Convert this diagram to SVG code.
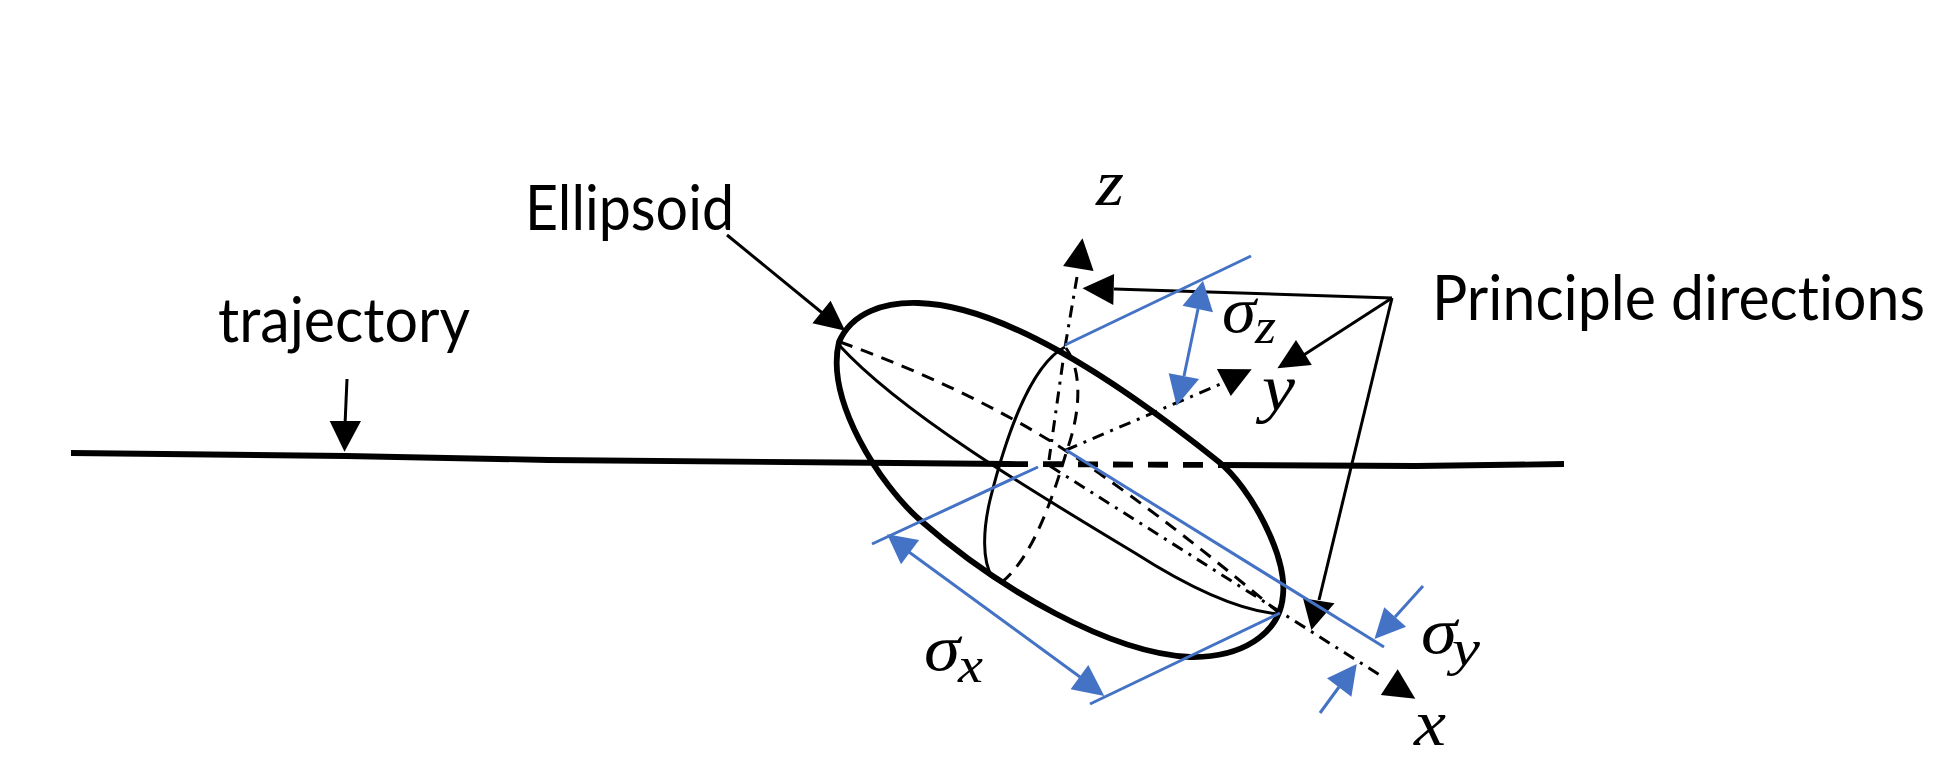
<svg xmlns="http://www.w3.org/2000/svg" width="1948" height="770" viewBox="0 0 1948 770">
<style>
.thick{fill:none;stroke:#000;stroke-width:5.800}
.thin{fill:none;stroke:#000;stroke-width:3}
.dash{fill:none;stroke:#000;stroke-width:3;stroke-dasharray:13 9}
.dd{fill:none;stroke:#000;stroke-width:3;stroke-dasharray:12 7 3 7}
.blue{fill:none;stroke:#4472c4;stroke-width:3}
.bh{fill:#4472c4}
.lab{font-family:Lato,"Open Sans",sans-serif;font-size:62px;fill:#000;font-variant-ligatures:none}
.m{font-family:"Liberation Serif",serif;font-style:italic;font-size:66px;fill:#000}
.s{font-family:"Liberation Serif",serif;font-style:italic;font-size:50px;fill:#000}
</style>
<rect width="1948" height="770" fill="#fff"/>
<g id="trajectory-line">
<path class="thick" d="M71 453L346 456L548 460L840 462.500L1008 464"/>
<path class="thick" d="M1008 464L1218 465" stroke-dasharray="20 15"/>
<path class="thick" d="M1218 465L1416 466L1564 464"/>
</g>
<g id="ellipsoid">
<path class="thick" d="M839 342C852 312 885 302 918 303C1000 305 1110 375 1219 462C1250 487 1287 555 1283 595C1280 635 1240 658 1190 657C1110 653 1000 590 920 520C880 485 825 400 839 342Z"/>
<path class="thin" d="M839 345C900 412 1030 490 1135 553C1185 585 1235 610 1278 614"/>
<path class="thin" d="M1065 347C1030 365 1005 440 990 500C983 530 982 560 992 577"/>
<path class="dash" d="M1066 348C1085 375 1078 420 1067 450C1055 490 1035 555 1002 582"/>
<path class="dash" d="M840 342Q960 385 1057 445Q1150 505 1278 612"/>
</g>
<g id="connectors">
<path class="dd" d="M1077 277L1065 347L1049 460"/>
<path class="dd" d="M1066 450L1223 383"/>
<path class="dd" d="M1050 466L1383 677"/>
<path class="thin" d="M727 235L826 316"/>
<path class="thin" d="M347 379L345 425"/>
<path class="thin" d="M1114 289L1392 298"/>
<path class="thin" d="M1392 298L1296 360"/>
<path class="thin" d="M1392 298L1319 600"/>
<polygon points="830.600,300.700 812.400,323.300 845.200,330.700"/>
<polygon points="329.700,421 361,421 344.500,451.700"/>
<polygon points="1082.500,238.300 1063.100,266 1093.600,271"/>
<polygon points="1082.500,288.300 1114.100,274 1113.300,305"/>
<polygon points="1277.400,368.300 1296,340 1311.800,365"/>
<polygon points="1311.400,630 1303,598.300 1334.500,603.300"/>
<polygon points="1216.900,369 1251.700,369.300 1230.800,396"/>
<polygon points="1397.700,669.300 1380.800,695 1415.300,698.700"/>
<path class="blue" d="M1251 256L1065 345"/>
<path class="blue" d="M1066 450L1384 647"/>
<path class="blue" d="M1038 467L872 544"/>
<path class="blue" d="M1090 704L1280 613"/>
<path class="blue" d="M1198 309L1184 376"/>
<path class="blue" d="M909 552L1080 677"/>
<path class="blue" d="M1423 586L1395 617"/>
<path class="blue" d="M1320 713L1339 687"/>
<polygon class="bh" points="1203,280.700 1182.500,305.700 1213,312.300"/>
<polygon class="bh" points="1176.600,405.700 1168.700,373.300 1199.100,379"/>
<polygon class="bh" points="887.100,534.300 901,564.300 919.100,540"/>
<polygon class="bh" points="1104.300,696 1088.300,665 1070.600,689.300"/>
<polygon class="bh" points="1374.500,639 1384.200,607.300 1406.100,626.700"/>
<polygon class="bh" points="1356.800,664 1327,678.300 1351.400,696.700"/>
</g>
<g id="label-ellipsoid"><text class="lab" x="525" y="230" textLength="209" lengthAdjust="spacingAndGlyphs">Ellipsoid</text></g>
<g id="label-trajectory"><text class="lab" x="218" y="342" textLength="252" lengthAdjust="spacingAndGlyphs">trajectory</text></g>
<g id="label-principle"><text class="lab" x="1432" y="320" textLength="493" lengthAdjust="spacingAndGlyphs">Principle directions</text></g>
<g id="label-z"><text class="m" x="1096" y="205" textLength="28" lengthAdjust="spacingAndGlyphs">z</text></g>
<g id="label-y"><text class="m" x="1262" y="410" textLength="33" lengthAdjust="spacingAndGlyphs">y</text></g>
<g id="label-x"><text class="m" x="1414" y="745" textLength="32" lengthAdjust="spacingAndGlyphs">x</text></g>
<g id="label-sigma-z"><text class="m" x="1222" y="332" textLength="34" lengthAdjust="spacingAndGlyphs">σ</text><text class="s" x="1255" y="343" textLength="21" lengthAdjust="spacingAndGlyphs">z</text></g>
<g id="label-sigma-y"><text class="m" x="1421" y="653" textLength="36" lengthAdjust="spacingAndGlyphs">σ</text><text class="s" x="1452" y="665" textLength="28" lengthAdjust="spacingAndGlyphs">y</text></g>
<g id="label-sigma-x"><text class="m" x="924" y="670" textLength="36" lengthAdjust="spacingAndGlyphs">σ</text><text class="s" x="958" y="682" textLength="25" lengthAdjust="spacingAndGlyphs">x</text></g>
</svg>
